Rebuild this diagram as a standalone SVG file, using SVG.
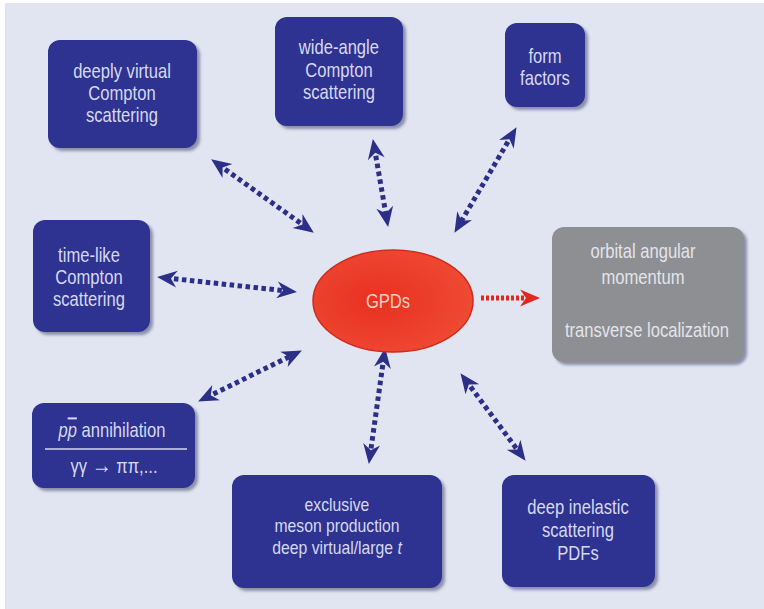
<svg xmlns="http://www.w3.org/2000/svg" width="764" height="609" viewBox="0 0 764 609">
  <defs>
    <style>
      .box { fill: #2d3190; filter: url(#shadow); }
      .gbox { fill: #8e8f93; filter: url(#shadow); }
      .lbl { font-family: "Liberation Sans Narrow", "Liberation Sans", Arial, sans-serif; font-size: 20px; fill: #d6d9f2; text-anchor: middle; transform-box: fill-box; transform-origin: center; transform: scaleX(0.83); }
      .sm { font-size: 19px; }
      .glbl { fill: #e4e4ea; }
      .conn { fill: none; stroke: #2c2f88; stroke-width: 5; stroke-dasharray: 4.5 3.5; marker-start: url(#headB); marker-end: url(#headB); }
      .red { fill: none; stroke: #e2281c; stroke-width: 5; stroke-dasharray: 3 2; marker-end: url(#headR); }
    </style>
    <filter id="shadow" x="-10%" y="-10%" width="125%" height="130%">
      <feDropShadow dx="3" dy="3" stdDeviation="1.5" flood-color="#50557a" flood-opacity="0.6"/>
    </filter>
    <radialGradient id="gpdGrad" cx="0.4" cy="0.5" r="0.6">
      <stop offset="0" stop-color="#e9301f"/>
      <stop offset="1" stop-color="#ee4a33"/>
    </radialGradient>
    <marker id="headB" viewBox="-13 -10 23 20" refX="0" refY="0" markerWidth="23" markerHeight="20" markerUnits="userSpaceOnUse" orient="auto-start-reverse">
      <path d="M9,0 L-11,-8.5 L-5,0 L-11,8.5 Z" fill="#2c2f88"/>
    </marker>
    <marker id="headR" viewBox="-13 -10 23 20" refX="0" refY="0" markerWidth="23" markerHeight="20" markerUnits="userSpaceOnUse" orient="auto">
      <path d="M9,0 L-11,-8.5 L-5,0 L-11,8.5 Z" fill="#e2281c"/>
    </marker>
  </defs>

  <rect x="0" y="0" width="764" height="609" fill="#ffffff"/>
  <rect x="5" y="3" width="759" height="606" fill="#e1e5f2"/>

  <g id="connectors">
    <path class="conn" d="M218.5,164.6 L306.5,227.4"/>
    <path class="conn" d="M374.4,147.9 L386.6,218.1"/>
    <path class="conn" d="M512,134.9 L459,225.1"/>
    <path class="conn" d="M166,277.9 L288,291.1"/>
    <path class="conn" d="M206.2,397.5 L293.8,354.5"/>
    <path class="conn" d="M383.9,356.9 L370.1,455.1"/>
    <path class="conn" d="M465.8,380.4 L520.2,453.6"/>
    <path class="red" d="M481,298 L531,298"/>
  </g>

  <g id="dvcs">
    <rect class="box" x="48" y="40" width="149" height="108" rx="12"/>
    <text class="lbl" x="122" y="78">deeply virtual</text>
    <text class="lbl" x="122" y="100">Compton</text>
    <text class="lbl" x="122" y="122">scattering</text>
  </g>

  <g id="wacs">
    <rect class="box" x="275" y="17" width="128" height="109" rx="12"/>
    <text class="lbl" x="339" y="54">wide-angle</text>
    <text class="lbl" x="339" y="77">Compton</text>
    <text class="lbl" x="339" y="99">scattering</text>
  </g>

  <g id="formfactors">
    <rect class="box" x="505" y="23" width="80" height="84" rx="12"/>
    <text class="lbl" x="545" y="63">form</text>
    <text class="lbl" x="545" y="85">factors</text>
  </g>

  <g id="timelike">
    <rect class="box" x="33" y="220" width="117" height="112" rx="12"/>
    <text class="lbl" x="89" y="262">time-like</text>
    <text class="lbl" x="89" y="284">Compton</text>
    <text class="lbl" x="89" y="306">scattering</text>
  </g>

  <g id="gpds">
    <ellipse cx="393" cy="301" rx="80" ry="51" fill="url(#gpdGrad)" stroke="#cf2a1c" stroke-width="1.5"/>
    <text class="lbl" x="388" y="308" style="fill:#f6cfc6">GPDs</text>
  </g>

  <g id="orbital">
    <rect class="gbox" x="552" y="227" width="192" height="135" rx="12"/>
    <text class="lbl glbl" x="643" y="258">orbital angular</text>
    <text class="lbl glbl" x="643" y="284">momentum</text>
    <text class="lbl glbl" x="647" y="337">transverse localization</text>
  </g>

  <g id="annihilation">
    <rect class="box" x="32" y="403" width="163" height="85" rx="12"/>
    <text class="lbl" x="112" y="437"><tspan font-style="italic">p</tspan><tspan font-style="italic" text-decoration="overline">p</tspan> annihilation</text>
    <line x1="45" y1="449" x2="187" y2="449" stroke="#d6d9f2" stroke-width="1.5"/>
    <text class="lbl" x="114" y="473">γγ <tspan font-size="24">→</tspan> ππ,...</text>
  </g>

  <g id="exclusive">
    <rect class="box" x="232" y="475" width="210" height="113" rx="12"/>
    <text class="lbl sm" x="337" y="511">exclusive</text>
    <text class="lbl sm" x="337" y="532">meson production</text>
    <text class="lbl sm" x="337" y="554">deep virtual/large <tspan font-style="italic">t</tspan></text>
  </g>

  <g id="dis">
    <rect class="box" x="502" y="475" width="153" height="112" rx="12"/>
    <text class="lbl" x="578" y="514">deep inelastic</text>
    <text class="lbl" x="578" y="537">scattering</text>
    <text class="lbl" x="578" y="560">PDFs</text>
  </g>
</svg>
